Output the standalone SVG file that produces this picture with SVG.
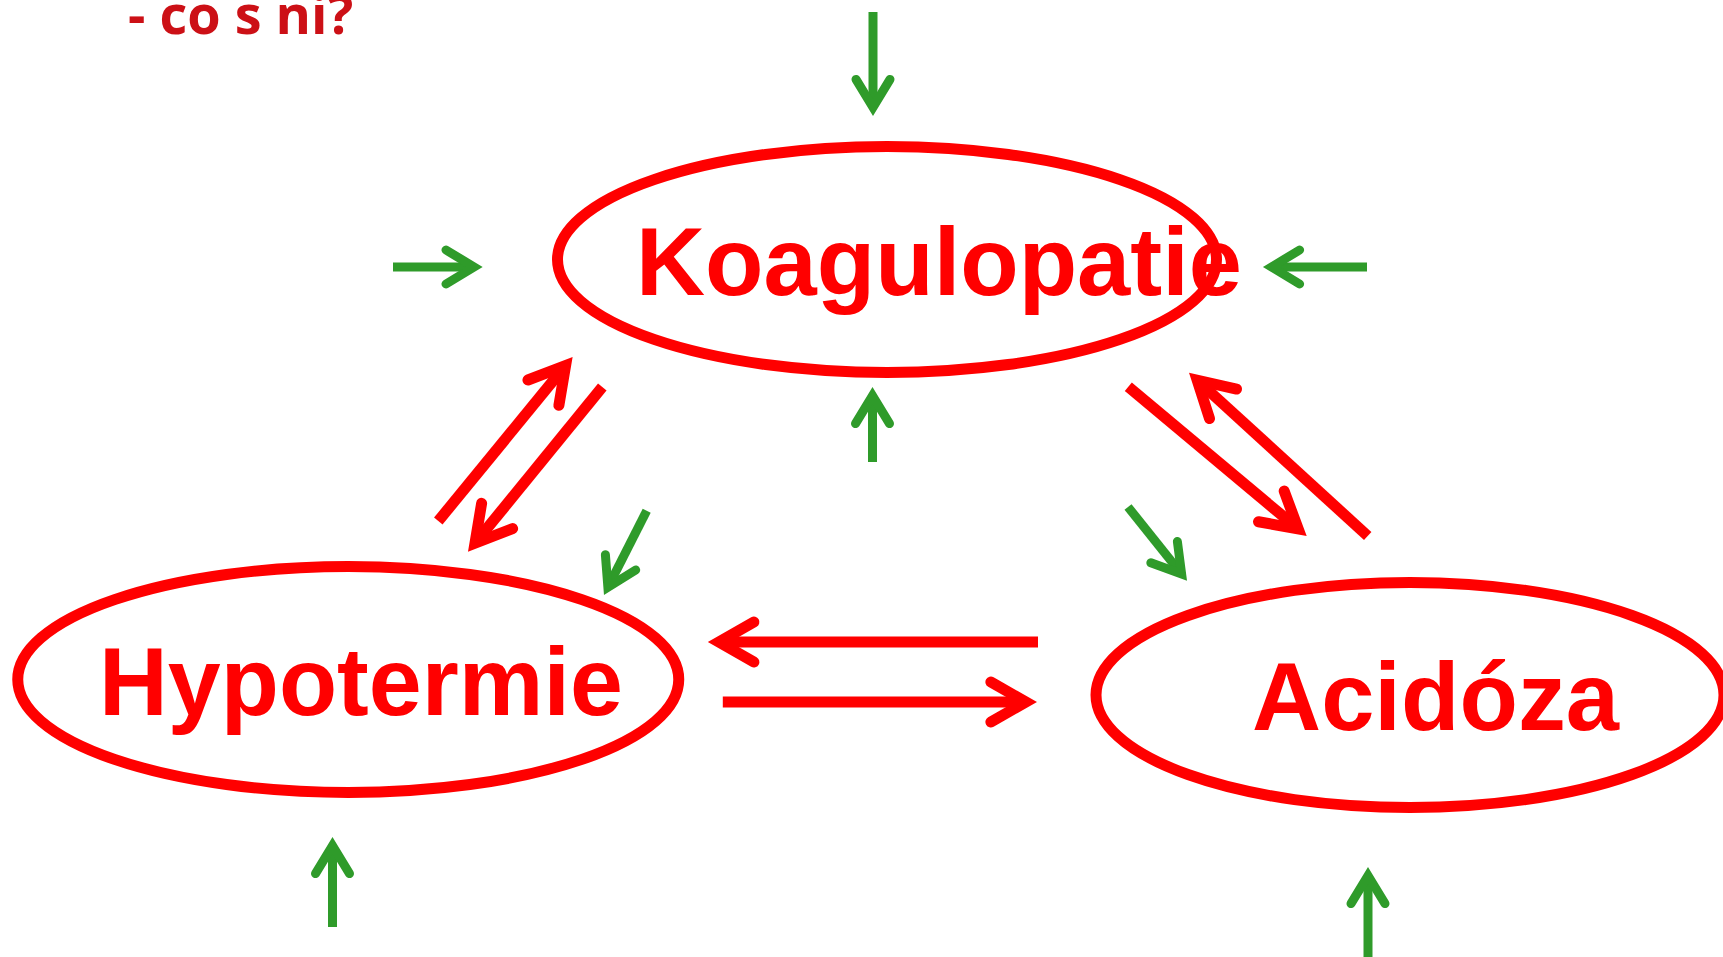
<svg xmlns="http://www.w3.org/2000/svg" width="1723" height="957" viewBox="0 0 1723 957">
<defs>
<style>
.ell{fill:none;stroke:#FF0000;stroke-width:11}
.lbl{font-family:"Liberation Sans",Arial,sans-serif;font-weight:bold;font-size:97px;fill:#FF0000}
.red{fill:none;stroke:#FF0000;stroke-width:11;stroke-linecap:butt;marker-end:url(#hr)}
.grn{fill:none;stroke:#2F9B2A;stroke-width:9;stroke-linecap:butt;marker-end:url(#hg)}
</style>
<marker id="hr" markerUnits="userSpaceOnUse" orient="auto" refX="0" refY="0" markerWidth="80" markerHeight="80" viewBox="-60 -40 80 80" overflow="visible">
<path d="M-35,-20 L0,0 L-35,20" fill="none" stroke="#FF0000" stroke-width="11" stroke-linecap="round" stroke-linejoin="miter"/>
</marker>
<marker id="hg" markerUnits="userSpaceOnUse" orient="auto" refX="0" refY="0" markerWidth="80" markerHeight="80" viewBox="-60 -40 80 80" overflow="visible">
<path d="M-28,-17 L0,0 L-28,17" fill="none" stroke="#2F9B2A" stroke-width="9" stroke-linecap="round" stroke-linejoin="miter"/>
</marker>
</defs>
<rect width="1723" height="957" fill="#FFFFFF"/>
<text x="128" y="34" font-family="'Open Sans',sans-serif" font-weight="bold" font-size="54" fill="#CC1016">- co s ni?</text>
<g id="koagulopatie">
<ellipse class="ell" cx="887" cy="259.5" rx="329.5" ry="113"/>
<text class="lbl" x="636" y="294.7" textLength="606" lengthAdjust="spacingAndGlyphs">Koagulopatie</text>
</g>
<g id="hypotermie">
<ellipse class="ell" cx="348.25" cy="679.5" rx="330.5" ry="113"/>
<text class="lbl" x="99" y="714.7" textLength="524" lengthAdjust="spacingAndGlyphs">Hypotermie</text>
</g>
<g id="acidoza">
<ellipse class="ell" cx="1410" cy="695" rx="314" ry="112.5"/>
<text class="lbl" x="1252" y="729.7" textLength="367" lengthAdjust="spacingAndGlyphs">Acidóza</text>
</g>
<g id="connectors">
<line class="red" x1="438.3" y1="521" x2="565.6" y2="365.6"/>
<line class="red" x1="602.3" y1="387" x2="475" y2="543.1"/>
<line class="red" x1="1128.3" y1="386.7" x2="1298.2" y2="528.9"/>
<line class="red" x1="1367.7" y1="536" x2="1197.2" y2="380.2"/>
<line class="red" x1="1038" y1="642" x2="718.9" y2="642"/>
<line class="red" x1="722.8" y1="702" x2="1025.9" y2="702"/>
<line class="grn" x1="873" y1="12" x2="873" y2="107.4"/>
<line class="grn" x1="393" y1="267" x2="474" y2="267"/>
<line class="grn" x1="1367" y1="267" x2="1271.6" y2="267"/>
<line class="grn" x1="872.5" y1="462" x2="872.5" y2="395.6"/>
<line class="grn" x1="332.5" y1="927" x2="332.5" y2="845.6"/>
<line class="grn" x1="1368" y1="957" x2="1368" y2="875.6"/>
<line class="grn" x1="646.7" y1="510.7" x2="607.9" y2="587.3"/>
<line class="grn" x1="1128" y1="507" x2="1181.6" y2="574"/>
</g>
</svg>
